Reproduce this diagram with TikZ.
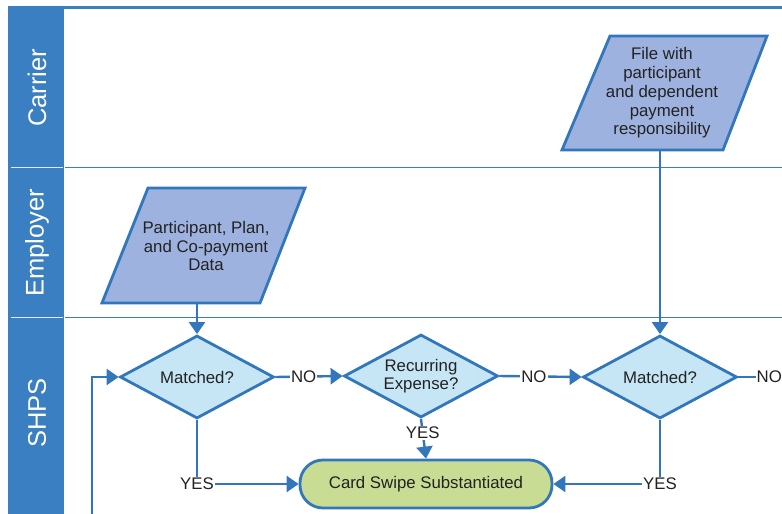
\documentclass[tikz,border=0pt]{standalone}
\usepackage{fontspec}
\setmainfont{Liberation Sans}
\usetikzlibrary{shapes.geometric,arrows.meta}
\definecolor{laneblue}{HTML}{3A7FC1}
\definecolor{linkblue}{HTML}{3276BC}
\definecolor{datafill}{HTML}{9EB2E0}
\definecolor{decfill}{HTML}{C6E6F6}
\definecolor{endfill}{HTML}{C8DC94}
\definecolor{txt}{HTML}{222222}
\tikzset{
  lanelabel/.style={text=white,font=\fontsize{25.5}{28}\selectfont,rotate=90},
  datashape/.style={draw=linkblue,line width=2.8pt,fill=datafill,line join=miter},
  datatext/.style={text=txt,font=\fontsize{16.8}{18.7}\selectfont,align=center},
  decision/.style={diamond,draw=linkblue,line width=2.8pt,fill=decfill,
    shape aspect=1.85,minimum width=154pt,minimum height=83pt,inner sep=1pt,
    text=txt,font=\fontsize{16.8}{18.5}\selectfont,align=center},
  terminal/.style={draw=linkblue,line width=2.8pt,fill=endfill,rounded corners=23pt,
    minimum width=252pt,minimum height=48pt,text=txt,font=\fontsize{16.8}{19}\selectfont},
  flow/.style={draw=linkblue,line width=2.4pt,-{Triangle[length=12pt,width=16pt]}},
  flowplain/.style={draw=linkblue,line width=2.4pt},
  lbl/.style={fill=white,inner sep=1pt,text=txt,font=\fontsize{16.8}{18}\selectfont}
}
\begin{document}
\begin{tikzpicture}[x=1pt,y=-1pt]
\useasboundingbox (0,0) rectangle (782,514);
\fill[white] (0,0) rectangle (782,514);
% lanes
\fill[laneblue] (8,6) rectangle (64,520);
\draw[laneblue,line width=3pt] (8,7) -- (782,7);
\draw[laneblue,line width=1.4pt] (65,167.5) -- (782,167.5);
\draw[laneblue,line width=1.4pt] (65,317.5) -- (782,317.5);
\draw[white!85!laneblue,line width=1.3pt] (11,167.5) -- (63,167.5);
\draw[white!85!laneblue,line width=1.3pt] (11,317.5) -- (63,317.5);
\node[lanelabel] (lcarrier) at (37,88) {Carrier};
\node[lanelabel] (lemployer) at (37,243) {Employer};
\node[lanelabel] (lshps) at (37,413) {SHPS};
% data shapes
\draw[datashape] (148,188) -- (305,188) -- (260,303) -- (102,303) -- cycle;
\node[datatext] (empdata) at (206,246) {Participant, Plan,\\and Co-payment\\Data};
\coordinate (empout) at (197,303);
\draw[datashape] (610,36) -- (767,36) -- (723,150) -- (562,150) -- cycle;
\node[datatext] (carfile) at (662,93) {File with\\participant\\and dependent\\payment\\responsibility};
\coordinate (carout) at (660,150);
% decisions
\node[decision] (m1) at (197,377) {Matched?};
\node[decision] (rec) at (421,376) {Recurring\\Expense?};
\node[decision] (m2) at (660,377) {Matched?};
\node[terminal] (card) at (426,484) {Card Swipe Substantiated};
\node[lbl,anchor=west,inner xsep=0.5pt] (no3) at (756,377) {NO};
\coordinate (loopin) at (92,520);
% connectors
\draw[flow] (empout) -- (m1.north);
\draw[flow] (carout) -- (m2.north);
\draw[flow] (m1.east) -- node[lbl,pos=0.42] {NO} (rec.west);
\draw[flow] (rec.east) -- node[lbl,pos=0.42] {NO} (m2.west);
\draw[flowplain] (m2.east) -- (no3.west);
\draw[flow] (rec.south) -- node[lbl,pos=0.36] {YES} (card.north);
\draw[flow] (m1.south) |- node[lbl,pos=0.5] {YES} (card.west);
\draw[flow] (m2.south) |- node[lbl,pos=0.5] {YES} (card.east);
\draw[flow] (loopin) |- (m1.west);
\end{tikzpicture}
\end{document}
